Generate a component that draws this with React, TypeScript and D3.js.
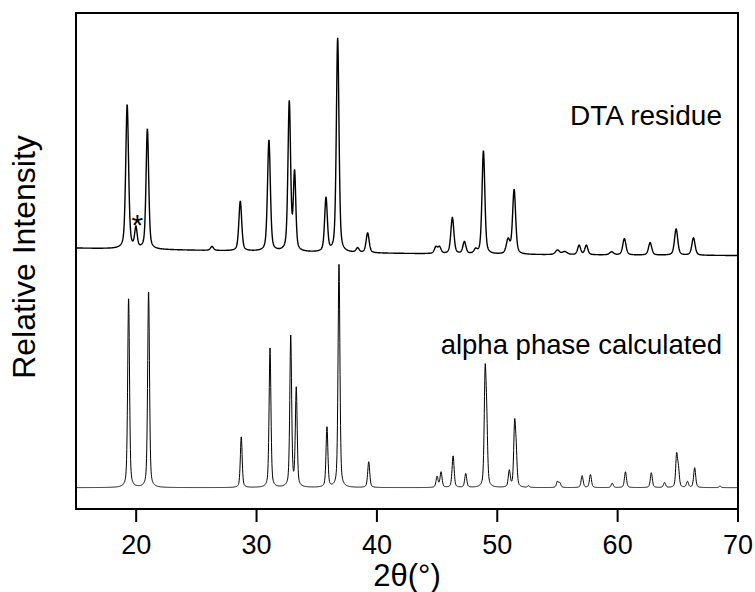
import React from 'react';
import * as d3 from 'd3';

// peaks: [2theta, height (% of plot height), fwhm]
const dtaPeaks: [number, number, number][] = [
  [19.25, 29.0, 0.28],
  [19.98, 4.0, 0.25],
  [20.93, 24.2, 0.26],
  [26.3, 0.8, 0.3],
  [28.65, 10.0, 0.28],
  [31.03, 22.4, 0.28],
  [32.72, 30.0, 0.26],
  [33.16, 15.5, 0.24],
  [35.77, 10.8, 0.27],
  [36.74, 43.2, 0.26],
  [38.4, 0.9, 0.3],
  [39.23, 4.0, 0.3],
  [44.9, 1.3, 0.3],
  [45.2, 1.3, 0.3],
  [46.27, 7.3, 0.3],
  [47.27, 2.4, 0.3],
  [48.2, 0.8, 0.3],
  [48.85, 20.8, 0.28],
  [50.9, 2.8, 0.35],
  [51.4, 13.0, 0.3],
  [55.0, 0.9, 0.4],
  [55.6, 0.6, 0.5],
  [56.8, 1.9, 0.3],
  [57.4, 1.9, 0.3],
  [59.5, 0.6, 0.4],
  [60.56, 3.3, 0.32],
  [62.7, 2.5, 0.32],
  [64.86, 5.3, 0.32],
  [66.3, 3.5, 0.32],
];

const calcPeaks: [number, number, number][] = [
  [19.37, 38.4, 0.18],
  [21.03, 39.8, 0.18],
  [28.73, 10.3, 0.18],
  [31.12, 28.1, 0.18],
  [32.84, 30.4, 0.18],
  [33.3, 19.8, 0.18],
  [35.85, 12.2, 0.18],
  [36.85, 45.4, 0.18],
  [39.32, 5.2, 0.2],
  [45.0, 2.2, 0.2],
  [45.33, 3.1, 0.2],
  [46.33, 6.4, 0.2],
  [47.38, 2.8, 0.2],
  [48.99, 21.5, 0.18],
  [49.12, 11.5, 0.18],
  [51.0, 3.3, 0.2],
  [51.44, 12.0, 0.18],
  [51.57, 6.2, 0.18],
  [52.6, 0.3, 0.2],
  [55.0, 1.2, 0.2],
  [55.2, 0.9, 0.2],
  [57.05, 2.4, 0.2],
  [57.74, 2.6, 0.2],
  [59.55, 0.9, 0.2],
  [60.65, 3.2, 0.2],
  [62.8, 3.0, 0.2],
  [63.9, 1.0, 0.2],
  [64.9, 6.4, 0.18],
  [65.05, 3.4, 0.18],
  [65.8, 1.2, 0.2],
  [66.4, 4.0, 0.2],
  [68.5, 0.3, 0.2],
];

// background levels of each trace
const dtaBackground: [number, number][] = [
  [15, 52.6],
  [35, 51.7],
  [50, 51.3],
  [70, 51.1],
];
const calcBaseline = 4.3;

const xTicks = [20, 30, 40, 50, 60, 70];

const W = 755;
const H = 592;
const frame = { left: 76, right: 738, top: 13, bottom: 509 };

const profile = (
  peaks: [number, number, number][],
  bg: (t: number) => number,
) => {
  const pts: [number, number][] = [];
  for (let t = 15; t <= 70.0001; t += 0.02) {
    let v = bg(t);
    for (const [c, h, w] of peaks) {
      const u = (2 * (t - c)) / w;
      const lor = 1 / (1 + u * u);
      const gau = Math.exp(-Math.LN2 * u * u);
      v += h * (0.45 * lor + 0.55 * gau);
    }
    pts.push([t, v]);
  }
  return pts;
};

export default function App() {
  const x = d3.scaleLinear().domain([15, 70]).range([frame.left, frame.right]);
  const y = d3.scaleLinear().domain([0, 100]).range([frame.bottom, frame.top]);

  const bgScale = d3
    .scaleLinear()
    .domain(dtaBackground.map((d) => d[0]))
    .range(dtaBackground.map((d) => d[1]));

  const dta = profile(dtaPeaks, (t) => bgScale(t));
  const calc = profile(calcPeaks, () => calcBaseline);

  const line = d3
    .line<[number, number]>()
    .x((d) => x(d[0]))
    .y((d) => y(d[1]));

  const font = 'Arial, "Liberation Sans", Helvetica, sans-serif';

  return (
    <svg
      width={W}
      height={H}
      style={{ position: 'absolute', left: 0, top: 0, background: '#fff' }}
      fontFamily={font}
    >
      <path d={line(dta) || ''} fill="none" stroke="#000" strokeWidth={1.4} />
      <path d={line(calc) || ''} fill="none" stroke="#000" strokeWidth={1} />

      <rect
        x={frame.left}
        y={frame.top}
        width={frame.right - frame.left}
        height={frame.bottom - frame.top}
        fill="none"
        stroke="#000"
        strokeWidth={2}
      />

      {xTicks.map((t) => (
        <g key={t} transform={`translate(${x(t)},0)`}>
          <line y1={frame.bottom} y2={frame.bottom + 13} stroke="#000" strokeWidth={2} />
          <text y={554} textAnchor="middle" fontSize={27}>
            {t}
          </text>
        </g>
      ))}

      <text x={x(42.5)} y={586} textAnchor="middle" fontSize={31}>
        2θ(°)
      </text>
      <text
        transform="translate(35,257) rotate(-90)"
        textAnchor="middle"
        fontSize={32}
      >
        Relative Intensity
      </text>

      <text x={722} y={125} textAnchor="end" fontSize={28}>
        DTA residue
      </text>
      <text x={722} y={354} textAnchor="end" fontSize={27.5}>
        alpha phase calculated
      </text>
      <text x={x(20.1)} y={235} textAnchor="middle" fontSize={30}>
        *
      </text>
    </svg>
  );
}
